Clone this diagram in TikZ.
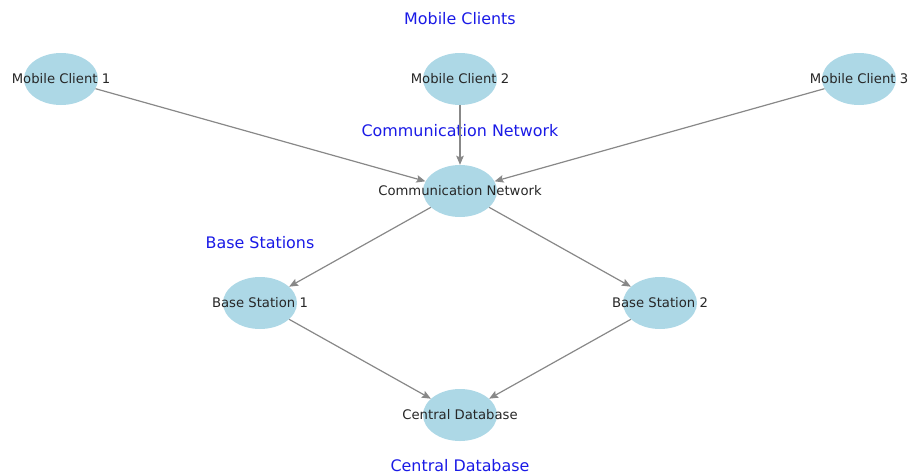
\documentclass[tikz,border=0pt]{standalone}
\usepackage{fontspec}
\setmainfont{DejaVu Sans}
\usetikzlibrary{arrows.meta,shapes.geometric}
\definecolor{nodefill}{HTML}{ADD8E6}
\definecolor{edgegray}{HTML}{888888}
\definecolor{labelblue}{HTML}{1A1AE6}
\begin{document}
\begin{tikzpicture}[x=1pt,y=-1pt,
  netnode/.style={ellipse, fill=nodefill, minimum width=74pt, minimum height=52pt, inner sep=0pt,
    label={[font=\fontsize{13.2}{15}\selectfont, text=black!85]center:#1}},
  edge/.style={draw=edgegray, line width=1.2pt, -{Stealth[length=9pt,width=7.5pt,inset=1.5pt]}},
  grouplabel/.style={text=labelblue, font=\fontsize{15.9}{18}\selectfont}]
\useasboundingbox (0,0) rectangle (908,475);
\node[netnode=Mobile Client 1] (mc1) at (61,79) {};
\node[netnode=Mobile Client 2] (mc2) at (460,79) {};
\node[netnode=Mobile Client 3] (mc3) at (859,79) {};
\node[netnode=Communication Network] (cn) at (460,191) {};
\node[netnode=Base Station 1] (bs1) at (260,303) {};
\node[netnode=Base Station 2] (bs2) at (660,303) {};
\node[netnode=Central Database] (db) at (460,415) {};
\node[grouplabel] (l1) at (460,19) {Mobile Clients};
\node[grouplabel] (l2) at (460,131) {Communication Network};
\node[grouplabel] (l3) at (260,243) {Base Stations};
\node[grouplabel] (l4) at (460,466) {Central Database};
\draw[edge] (mc1) -- (cn);
\draw[edge] (mc2) -- (cn);
\draw[edge] (mc3) -- (cn);
\draw[edge] (cn) -- (bs1);
\draw[edge] (cn) -- (bs2);
\draw[edge] (bs1) -- (db);
\draw[edge] (bs2) -- (db);
\end{tikzpicture}
\end{document}
